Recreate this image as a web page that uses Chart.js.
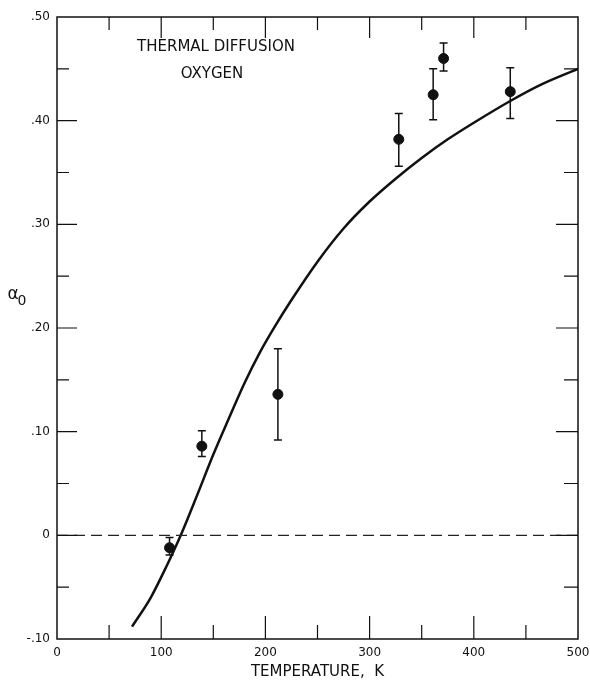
<!DOCTYPE html>
<html lang="en">
  <head>
    <meta charset="utf-8">
    <title>Thermal diffusion - oxygen</title>
    <style>
      body { margin: 0; background: #fff; }
      #wrap { width: 590px; height: 680px; position: relative; }
    </style>
  </head>
  <body>
    <div id="wrap"><canvas id="myChart"></canvas></div>

    <script src="https://cdn.jsdelivr.net/npm/chart.js@4.4.0/dist/chart.umd.min.js"></script>
    <script>
      // smooth theory curve
      const curveT = [72, 90, 105, 120, 135, 150, 165, 180, 195, 210, 225, 250, 275, 300, 325, 350, 375, 400, 435, 465, 500];
      const curveAlpha = [-0.088, -0.060, -0.030, 0.003, 0.040, 0.078, 0.113, 0.147, 0.177, 0.203, 0.227, 0.264, 0.296, 0.322, 0.344, 0.364, 0.382, 0.398, 0.419, 0.435, 0.450];

      // measured points with error bars
      const measT = [108, 139, 212, 328, 361, 371, 435];
      const measAlpha = [-0.012, 0.086, 0.136, 0.382, 0.425, 0.460, 0.428];
      const errLow = [-0.019, 0.076, 0.092, 0.356, 0.401, 0.448, 0.402];
      const errHigh = [-0.002, 0.101, 0.180, 0.407, 0.450, 0.475, 0.451];

      // dashed zero line
      const zeroT = [0, 500];
      const zeroAlpha = [0, 0];

      // axis ticks
      const xMinorTicks = [50, 100, 150, 200, 250, 300, 350, 400, 450];
      const yMinorTicks = [-0.05, 0, 0.05, 0.10, 0.15, 0.20, 0.25, 0.30, 0.35, 0.40, 0.45];

      const toXY = (xs, ys) => xs.map((v, i) => ({x: v, y: ys[i]}));
      const FONT = 'DejaVu Sans';

      // frame, inward ticks, error bars and loose texts
      const framePlugin = {
        id: 'frame',
        afterDatasetsDraw(chart) {
          const {ctx, scales: {x, y}} = chart;
          ctx.save();
          ctx.strokeStyle = '#111';
          ctx.lineWidth = 1.5;
          for (let i = 0; i < measT.length; i++) {
            const px = x.getPixelForValue(measT[i]);
            const lo = y.getPixelForValue(errLow[i]);
            const hi = y.getPixelForValue(errHigh[i]);
            ctx.beginPath();
            ctx.moveTo(px, lo); ctx.lineTo(px, hi);
            ctx.moveTo(px - 4, lo); ctx.lineTo(px + 4, lo);
            ctx.moveTo(px - 4, hi); ctx.lineTo(px + 4, hi);
            ctx.stroke();
          }
          ctx.restore();
        },
        afterDraw(chart) {
          const {ctx, chartArea: a, scales: {x, y}} = chart;
          ctx.save();
          ctx.strokeStyle = '#111';
          ctx.lineWidth = 1.5;
          ctx.strokeRect(a.left, a.top, a.right - a.left, a.bottom - a.top);
          ctx.lineWidth = 1.2;
          ctx.beginPath();
          xMinorTicks.forEach(v => {
            const px = x.getPixelForValue(v);
            const major = v % 100 === 0;
            ctx.moveTo(px, a.bottom); ctx.lineTo(px, a.bottom - (major ? 23 : 14));
            ctx.moveTo(px, a.top); ctx.lineTo(px, a.top + (major ? 21 : 13));
          });
          yMinorTicks.forEach(v => {
            const py = y.getPixelForValue(v);
            const major = Math.round(v * 100) % 10 === 0;
            ctx.moveTo(a.left, py); ctx.lineTo(a.left + (major ? 20 : 12), py);
            ctx.moveTo(a.right, py); ctx.lineTo(a.right - (major ? 22 : 14), py);
          });
          ctx.stroke();

          ctx.fillStyle = '#111';
          ctx.textAlign = 'center';
          ctx.textBaseline = 'middle';
          ctx.font = '15px "' + FONT + '"';
          ctx.fillText('THERMAL DIFFUSION', 216, 47);
          ctx.fillText('OXYGEN', 212, 74);

          ctx.font = '17px "' + FONT + '"';
          ctx.fillText('α', 13, 295);
          ctx.font = '14px "' + FONT + '"';
          ctx.fillText('0', 22, 301);
          ctx.restore();
        }
      };

      const ctx = document.getElementById('myChart').getContext('2d');
      const chart = new Chart(ctx, {
        type: 'scatter',
        data: {
          datasets: [
            {
              label: 'zero',
              data: toXY(zeroT, zeroAlpha),
              showLine: true,
              borderColor: '#222',
              borderWidth: 1.2,
              borderDash: [11, 6],
              pointRadius: 0
            },
            {
              label: 'theory',
              data: toXY(curveT, curveAlpha),
              showLine: true,
              borderColor: '#111',
              borderWidth: 2.5,
              cubicInterpolationMode: 'monotone',
              pointRadius: 0
            },
            {
              label: 'measured',
              data: toXY(measT, measAlpha),
              showLine: false,
              pointRadius: 5,
              pointBackgroundColor: '#111',
              pointBorderColor: '#111'
            }
          ]
        },
        options: {
          responsive: true,
          maintainAspectRatio: false,
          animation: false,
          layout: { padding: { top: 17, right: 12, left: 0, bottom: 0 } },
          plugins: { legend: { display: false }, tooltip: { enabled: false } },
          scales: {
            x: {
              type: 'linear',
              min: 0,
              max: 500,
              grid: { display: false, drawTicks: false },
              border: { display: false },
              ticks: {
                stepSize: 100,
                padding: 7,
                color: '#111',
                font: { family: FONT, size: 12 }
              },
              title: {
                display: true,
                text: 'TEMPERATURE,  K',
                color: '#111',
                font: { family: FONT, size: 15, lineHeight: 1 },
                padding: { top: 0, bottom: 0 }
              },
              afterFit(s) { s.height = 41; s.paddingLeft = 0; s.paddingRight = 0; }
            },
            y: {
              min: -0.1,
              max: 0.5,
              grid: { display: false, drawTicks: false },
              border: { display: false },
              ticks: {
                stepSize: 0.1,
                padding: 7,
                color: '#111',
                font: { family: FONT, size: 12 },
                callback: v => {
                  const n = Math.round(v * 100);
                  if (n === 0) return '0';
                  const s = '.' + String(Math.abs(n)).padStart(2, '0');
                  return n < 0 ? '-' + s : s;
                }
              },
              afterFit(s) { s.width = 57; s.paddingTop = 0; s.paddingBottom = 0; }
            }
          }
        },
        plugins: [framePlugin]
      });
    </script>
  </body>
</html>
